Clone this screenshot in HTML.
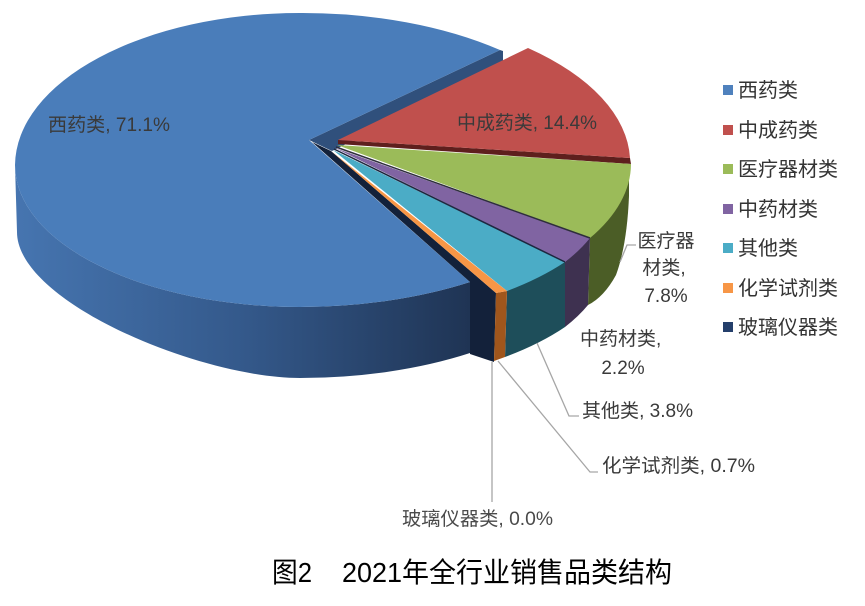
<!DOCTYPE html>
<html><head><meta charset="utf-8"><style>
html,body{margin:0;padding:0;background:#fff;}
svg{display:block;}
text{font-family:"Liberation Sans","Noto Sans CJK SC",sans-serif;}
</style></head><body>
<svg width="865" height="606" viewBox="0 0 865 606" xmlns="http://www.w3.org/2000/svg">
<defs>
<linearGradient id="bs" x1="15" y1="0" x2="470" y2="0" gradientUnits="userSpaceOnUse">
<stop offset="0" stop-color="#4675b0"/>
<stop offset="0.5" stop-color="#34598b"/>
<stop offset="1" stop-color="#1f3454"/>
</linearGradient>
</defs>
<rect width="865" height="606" fill="#fff"/>

<!-- blue back cut face strip -->
<path d="M309,140 L500,50 L503,51 L503,66 L332,151 Z" fill="#30507c"/>
<!-- blue side -->
<path d="M15,165 A285 142 0 0 0 300,307 A303 142 0 0 0 470,282 L470,353 A303 145 0 0 1 300,378 C200,378 17,302 17,232 Z" fill="url(#bs)"/>
<!-- blue top -->
<path d="M309,140 L500,50 A303 153 0 0 0 300,13 A285 153 0 0 0 15,165 A285 142 0 0 0 300,307 A303 142 0 0 0 470,282 Z" fill="#4a7dba"/>
<!-- navy region -->
<path d="M312,142 L331,151 L496,293 L494,362 L470,354 L470,282 Z" fill="#13213a"/>

<!-- red -->
<path d="M338,140 L630,158 L631,164 L338,144 Z" fill="#5e1f1d"/>
<path d="M338,140 L528,48 A303 153 0 0 1 630,158 Z" fill="#c0504d"/>

<!-- green -->
<path d="M629,170 L629,196 Q627,245 616,275 Q604,297 588,305 L590,238 Z" fill="#4b5d26"/>
<path d="M337,145 L631,164 A303 148 0 0 1 590,238 Z" fill="#9bbb59"/>

<!-- purple -->
<path d="M590,238 L588,305 A300 140 0 0 1 565,327 L565,262 Z" fill="#3e3150"/>
<path d="M335,148 L590,238 A303 142 0 0 1 565,262 Z" fill="#8064a2"/>

<!-- cyan -->
<path d="M565,262 L565,327 A300 140 0 0 1 505,357 L507,291 Z" fill="#1e4e5a"/>
<path d="M333,150 L565,262 A303 142 0 0 1 507,291 Z" fill="#4bacc6"/>

<!-- orange -->
<path d="M496,293 L507,291 L505,357 L494,361 Z" fill="#a0561c"/>
<path d="M331,151 L507,291 L496,293 Z" fill="#f79646"/>

<!-- separators -->
<line x1="336" y1="147" x2="590" y2="238" stroke="#2e2e3c" stroke-width="1.5"/>
<line x1="334" y1="149" x2="565" y2="262" stroke="#1d2740" stroke-width="1.5"/>

<!-- leader lines -->
<g fill="none" stroke="#a6a6a6" stroke-width="1.3">
<polyline points="620,262 627,245 636,245"/>
<polyline points="537,343 569,416 579,416"/>
<polyline points="498,361 590,472 598,472"/>
<polyline points="492,362 492,502"/>
</g>

<!-- data labels -->
<g font-size="19" fill="#3a3a3a">
<text x="48" y="131" textLength="122" lengthAdjust="spacingAndGlyphs">西药类, 71.1%</text>
<text x="457" y="129" textLength="140" lengthAdjust="spacingAndGlyphs">中成药类, 14.4%</text>
<text x="666" y="247" text-anchor="middle">医疗器</text>
<text x="664" y="274" text-anchor="middle">材类,</text>
<text x="666" y="302" text-anchor="middle">7.8%</text>
<text x="580" y="345">中药材类,</text>
<text x="623" y="374" text-anchor="middle">2.2%</text>
<text x="582" y="417" textLength="111" lengthAdjust="spacingAndGlyphs">其他类, 3.8%</text>
<text x="602" y="472" textLength="153" lengthAdjust="spacingAndGlyphs">化学试剂类, 0.7%</text>
<text x="402" y="525" textLength="151" lengthAdjust="spacingAndGlyphs" fill="#4a4a4a">玻璃仪器类, 0.0%</text>
</g>

<!-- legend -->
<g font-size="20" fill="#333">
<rect x="723" y="85" width="10" height="10" fill="#4f81bd"/><text x="738" y="97">西药类</text>
<rect x="723" y="125" width="10" height="10" fill="#c0504d"/><text x="738" y="137">中成药类</text>
<rect x="723" y="164" width="10" height="10" fill="#9bbb59"/><text x="738" y="176">医疗器材类</text>
<rect x="723" y="204" width="10" height="10" fill="#8064a2"/><text x="738" y="216">中药材类</text>
<rect x="723" y="243" width="10" height="10" fill="#4bacc6"/><text x="738" y="255">其他类</text>
<rect x="723" y="283" width="10" height="10" fill="#f79646"/><text x="738" y="295">化学试剂类</text>
<rect x="723" y="322" width="10" height="10" fill="#243f6b"/><text x="738" y="334">玻璃仪器类</text>
</g>

<!-- title -->
<g font-size="28" fill="#000">
<text x="272" y="582" textLength="40" lengthAdjust="spacingAndGlyphs">图2</text>
<text x="342" y="582" textLength="330" lengthAdjust="spacingAndGlyphs">2021年全行业销售品类结构</text>
</g>
</svg>
</body></html>
